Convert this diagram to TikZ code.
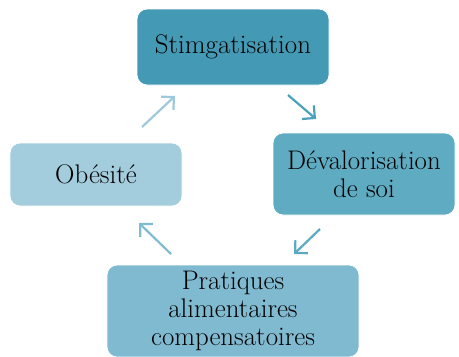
\documentclass[tikz,border=0pt]{standalone}
\usepackage{fontspec}
\usetikzlibrary{arrows.meta}
\definecolor{cA}{HTML}{449AB4}
\definecolor{cB}{HTML}{5FABC2}
\definecolor{cC}{HTML}{80BAD0}
\definecolor{cD}{HTML}{A3CCDD}
\definecolor{aA}{HTML}{4BA0BB}
\definecolor{aB}{HTML}{5BAAC3}
\definecolor{aC}{HTML}{80BBD0}
\definecolor{aD}{HTML}{9EC9DA}
\tikzset{
  box/.style={draw=white, line width=0.8bp, rounded corners=10bp, inner sep=0pt, align=center,
    font=\fontsize{27}{28.5}\selectfont, text=black},
  cyc/.style={line width=2.2bp, -{Straight Barb[length=9bp,width=18bp,line width=2.2bp]}},
}
\begin{document}
\begin{tikzpicture}[x=1bp,y=-1bp]
\useasboundingbox (0,0) rectangle (459,356);
\node[box, fill=cA, minimum width=192bp, minimum height=76bp] (stig) at (233,47) {Stimgatisation};
\node[box, fill=cB, minimum width=182bp, minimum height=82bp] (dev) at (364,174) {Dévalorisation\\de soi};
\node[box, fill=cD, minimum width=172bp, minimum height=63bp] (obe) at (96,174.5) {Obésité};
\node[box, fill=cC, minimum width=252bp, minimum height=92bp] (pra) at (233,311) {Pratiques\\alimentaires\\compensatoires};
\coordinate (a1s) at (288,95); \coordinate (a1e) at (316,119);
\coordinate (a2s) at (320,229); \coordinate (a2e) at (294,254);
\coordinate (a3s) at (171,254); \coordinate (a3e) at (139,223);
\coordinate (a4s) at (142,127); \coordinate (a4e) at (175,96);
\draw[cyc, aA] (a1s) -- (a1e);
\draw[cyc, aB] (a2s) -- (a2e);
\draw[cyc, aC] (a3s) -- (a3e);
\draw[cyc, aD] (a4s) -- (a4e);
\end{tikzpicture}
\end{document}
